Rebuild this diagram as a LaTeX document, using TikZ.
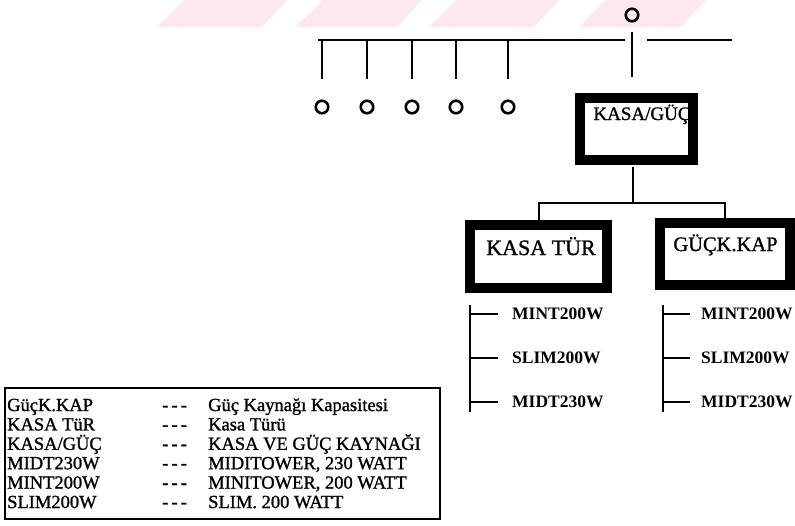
\documentclass[tikz,border=0pt]{standalone}
\usepackage{fontspec}
\setmainfont{Liberation Serif}
\newfontfamily\heavyfont{Liberation Serif}[FakeBold=1.2]
\definecolor{wmark}{RGB}{253,233,237}
\tikzset{
  port/.style={circle, draw, line width=2.6pt, minimum size=12.5pt, inner sep=0pt},
  bigbox/.style={draw, line width=10pt, inner sep=0pt},
  boxlabel/.style={anchor=base, inner sep=0pt},
  wire/.style={line width=2pt},
  item/.style={anchor=west, inner sep=0pt, font=\fontsize{17.5}{20}\selectfont\bfseries},
  keytext/.style={anchor=base west, inner sep=0pt, font=\fontsize{18.5}{20}\selectfont\heavyfont},
}
\begin{document}
\begin{tikzpicture}[x=1pt, y=-1pt]
    \useasboundingbox (0,0) rectangle (795,525);

    % Watermark stripes
    \foreach \a/\b/\c/\d in {157/185/287/262, 295/323/422/397, 429/457/559/534, 579/605/706/681}
        \fill[wmark] (\a,27) -- (\b,0) -- (\c,0) -- (\d,27) -- cycle;

    % Top bus
    \coordinate (barl) at (318,40);
    \coordinate (barm) at (625,40);
    \coordinate (barr) at (647,40);
    \coordinate (bare) at (732,40);
    \draw[wire] (barl) -- (barm);
    \draw[wire] (barr) -- (bare);

    \node[port] (top) at (632,15) {};
    \foreach \x [count=\i] in {322,367,412,456,508}
        \node[port] (p\i) at (\x,107) {};
    \foreach \i in {1,...,5}
        \draw[line width=1.6pt] (p\i |- barl) -- ++(0,39);

    % Boxes
    \node[bigbox, minimum width=113pt, minimum height=62pt] (kasaguc) at (636.5,129) {};
    \node[boxlabel, font=\fontsize{19}{21}\selectfont\heavyfont] (kasaguc-t) at (642,120) {KASA/GÜÇ};

    \node[bigbox, minimum width=137pt, minimum height=63pt] (kasatur) at (538.5,256.5) {};
    \node[boxlabel, font=\fontsize{22}{24}\selectfont\heavyfont] (kasatur-t) at (541,255) {KASA TÜR};

    \node[bigbox, minimum width=130pt, minimum height=62pt] (guckap) at (725,254) {};
    \node[boxlabel, font=\fontsize{20.5}{23}\selectfont\heavyfont] (guckap-t) at (725.5,251) {GÜÇK.KAP};

    % Connectors
    \draw[wire] ([yshift=-9pt]top.south) -- ([yshift=16pt]top |- kasaguc.north);
    \coordinate (split) at (633,203);
    \draw[line width=1.6pt] ([yshift=-2pt]kasaguc.south -| split) -- (split);
    \draw[wire] (kasatur.north) |- (split) -| (guckap.north);

    % Lists under the boxes
    \coordinate (lt) at (470,305);
    \coordinate (rt) at (663,305);
    \draw[wire] (lt) -- ++(0,107);
    \draw[wire] (rt) -- ++(0,107);
    \foreach \name/\y [count=\i] in {MINT200W/314, SLIM200W/358, MIDT230W/402} {
        \node[item] (l\i) at (512,\y) {\name};
        \node[item] (r\i) at (701,\y) {\name};
        \draw[line width=2.4pt] (l\i.west -| lt) -- ++(28,0);
        \draw[line width=2.4pt] (r\i.west -| rt) -- ++(27,0);
    }

    % Legend
    \draw[line width=1.3pt] (5,388) rectangle (440,519);
    \foreach \k/\v [count=\i] in {GüçK.KAP/Güç Kaynağı Kapasitesi, KASA TüR/Kasa Türü,
        {KASA/GÜÇ}/KASA VE GÜÇ KAYNAĞI, MIDT230W/{MIDITOWER, 230 WATT},
        MINT200W/{MINITOWER, 200 WATT}, SLIM200W/SLIM. 200 WATT} {
        \pgfmathsetmacro{\yy}{411+19.4*(\i-1)}
        \node[keytext] (k\i) at (7,\yy) {\k};
        \node[keytext] (d\i) at (162,\yy) {\textbf{-\,-\,-}};
        \node[keytext] (v\i) at (208,\yy) {\v};
    }
\end{tikzpicture}
\end{document}
